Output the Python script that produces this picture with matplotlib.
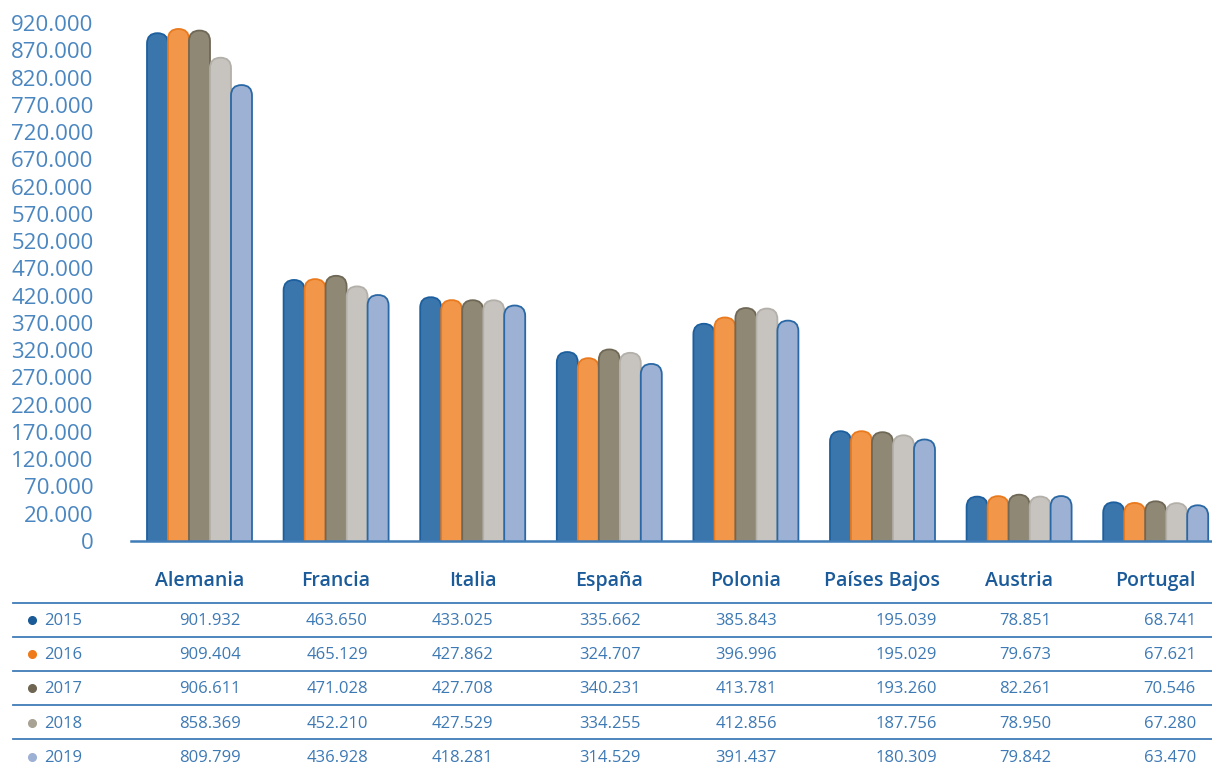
import numpy as np
import matplotlib.pyplot as plt
import matplotlib.transforms as mtransforms
from matplotlib.patches import FancyBboxPatch
from matplotlib.lines import Line2D

plt.rcParams['font.family'] = ['Open Sans', 'DejaVu Sans']

# === DATOS ===
paises = ["Alemania", "Francia", "Italia", "España", "Polonia", "Países Bajos", "Austria", "Portugal"]
anios = ["2015", "2016", "2017", "2018", "2019"]
v2015 = [901932, 463650, 433025, 335662, 385843, 195039, 78851, 68741]
v2016 = [909404, 465129, 427862, 324707, 396996, 195029, 79673, 67621]
v2017 = [906611, 471028, 427708, 340231, 413781, 193260, 82261, 70546]
v2018 = [858369, 452210, 427529, 334255, 412856, 187756, 78950, 67280]
v2019 = [809799, 436928, 418281, 314529, 391437, 180309, 79842, 63470]
series = [v2015, v2016, v2017, v2018, v2019]
# etiquetas del eje tal como aparecen (espaciadas uniformemente en el original)
ytick_labels = [0] + list(range(20000, 920001, 50000))

# === ESTILO ===
fill_cols = ["#3a76ac", "#f2974a", "#8f8875", "#c7c4c0", "#9db1d4"]
edge_cols = ["#1d5f9e", "#ea7a1e", "#6f6856", "#b3afa9", "#2a68a5"]
dot_cols = ["#1a5a96", "#ef7a1a", "#6e6652", "#a8a294", "#9db1d4"]
c_axis = "#3f7cb8"
c_tick = "#4a86c0"
c_head = "#1b5b9a"
c_num = "#3d79b4"

W, H = 1212, 767
fig = plt.figure(figsize=(W / 100, H / 100), dpi=100)

# ejes de barras (en pixeles)
ax_l, ax_r, ax_b, ax_h = 131, 1212, 541, 530
ax = fig.add_axes([ax_l / W, (H - ax_b) / H, (ax_r - ax_l) / W, ax_h / H])
px_step = 136.6
x0 = -(199.5 - ax_l) / px_step
x1 = x0 + (ax_r - ax_l) / px_step
ymax = ax_h * 920000 / 518
ax.set_xlim(x0, x1)
ax.set_ylim(0, ymax)

px_x = (ax_r - ax_l) / (x1 - x0)
px_y = ax_h / ymax
aspect = px_x / px_y
bw = 21 / px_step
extra = ymax * 0.05

for j, vals in enumerate(series):
    for i, v in enumerate(vals):
        left = i + (j - 2.5) * bw
        p = FancyBboxPatch((left, -extra), bw, v + extra,
                           boxstyle=f"round,pad=0,rounding_size={bw / 2}",
                           mutation_aspect=aspect,
                           facecolor=fill_cols[j], edgecolor=edge_cols[j],
                           linewidth=1.3, zorder=2 + j * 0.01)
        ax.add_patch(p)

for s in ["top", "right", "left"]:
    ax.spines[s].set_visible(False)
ax.spines["bottom"].set_color(c_axis)
ax.spines["bottom"].set_linewidth(1.8)
ax.spines["bottom"].set_zorder(5)
ax.set_xticks([])
ytick_pos = np.linspace(0, ytick_labels[-1], len(ytick_labels))
ax.set_yticks(ytick_pos)
ax.set_yticklabels([f"{t:,}".replace(",", ".") for t in ytick_labels])
ax.tick_params(axis="y", length=0, pad=27, labelsize=16, labelcolor=c_tick)

# === TABLA ===
def fy(py):
    return 1 - py / H

trans = mtransforms.blended_transform_factory(ax.transData, fig.transFigure)
for i, nombre in enumerate(paises):
    ax.text(i, fy(581), nombre, ha="center", va="center", transform=trans,
            fontsize=14, fontweight="semibold", color=c_head)

for py in [603, 637, 671, 705, 739]:
    fig.add_artist(Line2D([13 / W, 1], [fy(py), fy(py)], color=c_axis, lw=1.3))

col_right = [241, 368, 493, 641, 777, 937, 1051, 1196]
for j, vals in enumerate(series):
    py = 621 + j * 34.2
    fig.add_artist(Line2D([32 / W], [fy(py - 1)], marker="o", markersize=5.5,
                          color=dot_cols[j], linestyle="none"))
    fig.text(44 / W, fy(py), anios[j], ha="left", va="center",
             fontsize=12, color=c_num)
    for i, v in enumerate(vals):
        fig.text(col_right[i] / W, fy(py), f"{v:,}".replace(",", "."),
                 ha="right", va="center", fontsize=12, color=c_num)

fig.savefig("out.png", dpi=100)
